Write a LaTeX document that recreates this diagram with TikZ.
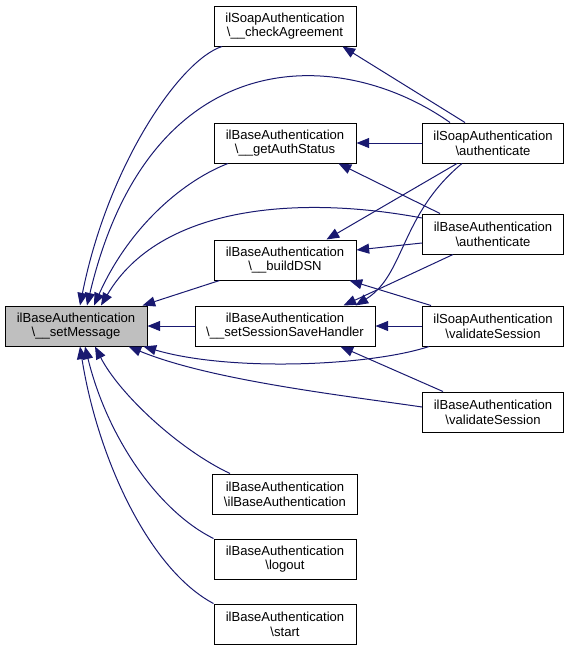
\documentclass[tikz,border=0pt]{standalone}
\usepackage{fontspec}
\setmainfont{Liberation Sans}
\definecolor{edgeblue}{RGB}{25, 25, 112}
\definecolor{focusgray}{RGB}{191, 191, 191}
\usepackage{tikz}
\usetikzlibrary{arrows.meta, positioning, calc}

\tikzset{
  fnbox/.style={draw=black, line width=0.75pt, fill=white, align=center, inner sep=2pt,
    minimum width=106.5pt, minimum height=30pt, font=\fontsize{9.8}{11}\selectfont},
  callarrow/.style={draw=edgeblue, line width=0.75pt, -{Triangle[length=9.5pt, width=7.5pt]}}
}

\begin{document}
\begin{tikzpicture}[x=0.75pt, y=-0.75pt]
  \useasboundingbox (0, 0) rectangle (569, 651);

  % focus node
  \node[fnbox, fill=focusgray] (setmsg) at (76, 326) {ilBaseAuthentication\\\textbackslash\_\_setMessage};

  % middle column
  \node[fnbox] (checkagr) at (285, 26) {ilSoapAuthentication\\\textbackslash\_\_checkAgreement};
  \node[fnbox] (authstatus) at (285, 143) {ilBaseAuthentication\\\textbackslash\_\_getAuthStatus};
  \node[fnbox] (builddsn) at (285, 260) {ilBaseAuthentication\\\textbackslash\_\_buildDSN};
  \node[fnbox, minimum width=135pt] (savehandler) at (285, 326) {ilBaseAuthentication\\\textbackslash\_\_setSessionSaveHandler};
  \node[fnbox, minimum width=108.75pt] (ctor) at (285, 494) {ilBaseAuthentication\\\textbackslash ilBaseAuthentication};
  \node[fnbox] (logout) at (285, 559) {ilBaseAuthentication\\\textbackslash logout};
  \node[fnbox] (start) at (285, 624) {ilBaseAuthentication\\\textbackslash start};

  % right column
  \node[fnbox, minimum width=105.75pt] (soapauth) at (493, 143) {ilSoapAuthentication\\\textbackslash authenticate};
  \node[fnbox, minimum width=105.75pt] (baseauth) at (493, 234) {ilBaseAuthentication\\\textbackslash authenticate};
  \node[fnbox, minimum width=105.75pt] (soapvalid) at (493, 326) {ilSoapAuthentication\\\textbackslash validateSession};
  \node[fnbox, minimum width=105.75pt] (basevalid) at (493, 412) {ilBaseAuthentication\\\textbackslash validateSession};

  % calls into setMessage
  \draw[callarrow] ($(checkagr.south)+(-63,0)$) .. controls (180, 60) and (108, 165) .. ($(setmsg.north)+(4,0)$);
  \draw[callarrow] ($(soapauth.north)+(-43,0)$) .. controls (340, 45) and (150, 40) .. ($(setmsg.north)+(11,0)$);
  \draw[callarrow] ($(authstatus.south)+(-57,0)$) .. controls (185, 180) and (130, 225) .. ($(setmsg.north)+(18,0)$);
  \draw[callarrow] ($(baseauth.west)+(0,-16)$) .. controls (300, 195) and (160, 205) .. ($(setmsg.north)+(25,0)$);
  \draw[callarrow] ($(builddsn.south west)+(6,0)$) -- ($(setmsg.north east)+(-5,0)$);
  \draw[callarrow] (savehandler.west) -- (setmsg.east);
  \draw[callarrow] ($(soapvalid.south west)+(7,0)$) .. controls (370, 366) and (230, 372) .. ($(setmsg.south east)+(-4,0)$);
  \draw[callarrow] ($(basevalid.west)+(0,-5)$) .. controls (340, 395) and (210, 380) .. ($(setmsg.south east)+(-19,0)$);
  \draw[callarrow] ($(ctor.north west)+(18,0)$) .. controls (180, 450) and (120, 395) .. ($(setmsg.south)+(19,0)$);
  \draw[callarrow] (logout.north west) .. controls (160, 512) and (108, 440) .. ($(setmsg.south)+(9,0)$);
  \draw[callarrow] (start.north west) .. controls (150, 570) and (98, 460) .. ($(setmsg.south)+(4,0)$);

  % calls between the other functions
  \draw[callarrow] (soapauth.west) -- (authstatus.east);
  \draw[callarrow] ($(soapauth.north)+(-28,0)$) -- ($(checkagr.south east)+(-14,0)$);
  \draw[callarrow] ($(baseauth.north)+(-53,0)$) -- ($(authstatus.south east)+(-18,0)$);
  \draw[callarrow] ($(soapauth.south)+(-36,0)$) -- ($(builddsn.north east)+(-30,0)$);
  \draw[callarrow] ($(baseauth.west)+(0,9)$) -- ($(builddsn.east)+(0,-10)$);
  \draw[callarrow] ($(soapvalid.north west)+(9,0)$) -- ($(builddsn.south east)+(-7,0)$);
  \draw[callarrow] ($(soapauth.south)+(-31,0)$) .. controls (400, 215) and (405, 275) .. ($(savehandler.north east)+(-20,0)$);
  \draw[callarrow] ($(baseauth.south)+(-40,0)$) -- ($(savehandler.north east)+(-32,0)$);
  \draw[callarrow] (soapvalid.west) -- (savehandler.east);
  \draw[callarrow] ($(basevalid.north)+(-50,0)$) -- ($(savehandler.south east)+(-35,0)$);
\end{tikzpicture}
\end{document}
